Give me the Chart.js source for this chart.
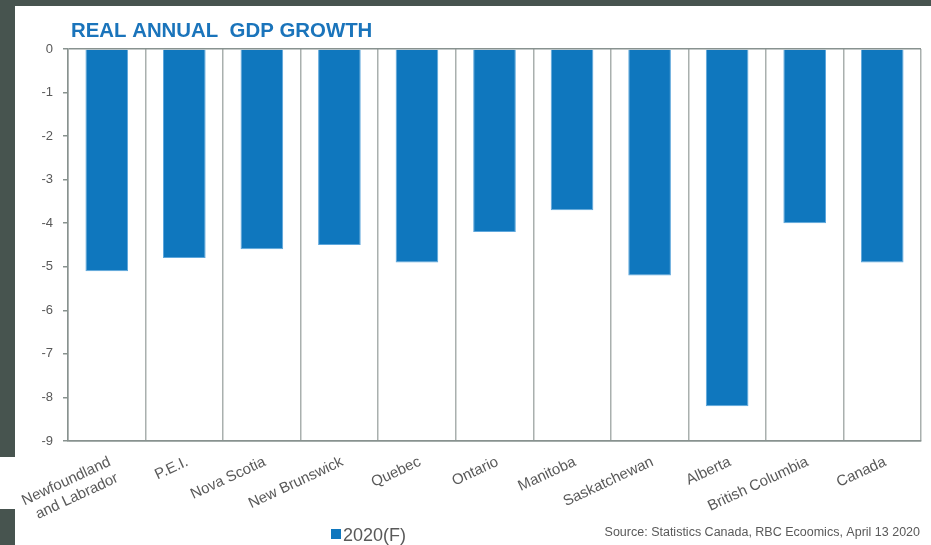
<!DOCTYPE html>
<html>
<head>
<meta charset="utf-8">
<script src="https://cdn.jsdelivr.net/npm/chart.js@4.4.0/dist/chart.umd.min.js"></script>
<style>
  html, body { margin: 0; padding: 0; background: #47544f; }
  #wrap { position: relative; width: 931px; height: 545px; }
  canvas { display: block; }
</style>
</head>
<body>
<div id="wrap"><canvas id="c" width="931" height="545"></canvas></div>
<script>
const categories = [
  ["Newfoundland", "and Labrador"], "P.E.I.", "Nova Scotia", "New Brunswick", "Quebec",
  "Ontario", "Manitoba", "Saskatchewan", "Alberta", "British Columbia", "Canada"
];
const growth2020F = [-5.1, -4.8, -4.6, -4.5, -4.9, -4.2, -3.7, -5.2, -8.2, -4.0, -4.9];
const seriesLabel = "2020(F)";
const yMin = -9, yMax = 0, yStep = 1;
const titleText = "REAL ANNUAL  GDP GROWTH";
const sourceText = "Source: Statistics Canada, RBC Ecoomics, April 13 2020";

const FONT = "'Liberation Sans', Arial, sans-serif";
const BAR = "#0f77be";
const GREY = "#595959";

const decor = {
  id: "decor",
  beforeDraw(chart) {
    const ctx = chart.ctx;
    ctx.save();
    ctx.fillStyle = "#47544f";
    ctx.fillRect(0, 0, chart.width, chart.height);
    ctx.fillStyle = "#ffffff";
    ctx.fillRect(15, 6, chart.width - 15, chart.height - 6);
    ctx.fillRect(0, 457, 15, 52);
    ctx.restore();
  },
  afterDraw(chart) {
    const ctx = chart.ctx;
    ctx.save();
    // title
    ctx.fillStyle = "#1a74bb";
    ctx.font = "bold 20.4px " + FONT;
    ctx.textBaseline = "alphabetic";
    ctx.textAlign = "left";
    ctx.fillText(titleText, 71, 37);
    // legend
    ctx.fillStyle = BAR;
    ctx.fillRect(331, 529, 10, 10);
    ctx.fillStyle = GREY;
    ctx.font = "18px " + FONT;
    ctx.fillText(chart.data.datasets[0].label, 343, 541);
    // source
    ctx.font = "12.5px " + FONT;
    ctx.textAlign = "right";
    ctx.fillText(sourceText, 920, 536);
    ctx.restore();
  }
};

new Chart(document.getElementById("c"), {
  type: "bar",
  data: {
    labels: categories,
    datasets: [{
      label: seriesLabel,
      data: growth2020F,
      backgroundColor: BAR,
      borderColor: "#5ea7dc",
      borderWidth: 1,
      borderSkipped: "start",
      barPercentage: 0.55,
      categoryPercentage: 1.0
    }]
  },
  plugins: [decor],
  options: {
    responsive: false,
    animation: false,
    devicePixelRatio: 1,
    layout: { padding: { top: 49, right: 10, left: 0, bottom: 0 } },
    plugins: { legend: { display: false }, title: { display: false }, tooltip: { enabled: false } },
    scales: {
      x: {
        offset: true,
        grid: { display: true, offset: true, color: "#a9b0ae", lineWidth: 1.5, drawTicks: false },
        border: { display: true, color: "#88928f", width: 1.5 },
        ticks: {
          color: GREY, font: { family: FONT, size: 15 },
          maxRotation: 25, minRotation: 25, autoSkip: false, padding: 12, labelOffset: 3
        },
        afterFit(scale) { scale.height = 545 - 441; }
      },
      y: {
        min: yMin, max: yMax,
        ticks: { stepSize: yStep, color: GREY, font: { family: FONT, size: 13 }, padding: 10 },
        grid: {
          drawTicks: true, tickLength: 5, tickColor: "#88928f",
          color: (c) => (c.tick && (c.tick.value === 0 || c.tick.value === -9)) ? "#88928f" : "rgba(0,0,0,0)",
          lineWidth: 1.5
        },
        border: { display: true, color: "#88928f", width: 1.5 },
        afterFit(scale) { scale.width = 68; }
      }
    }
  }
});
</script>
</body>
</html>
